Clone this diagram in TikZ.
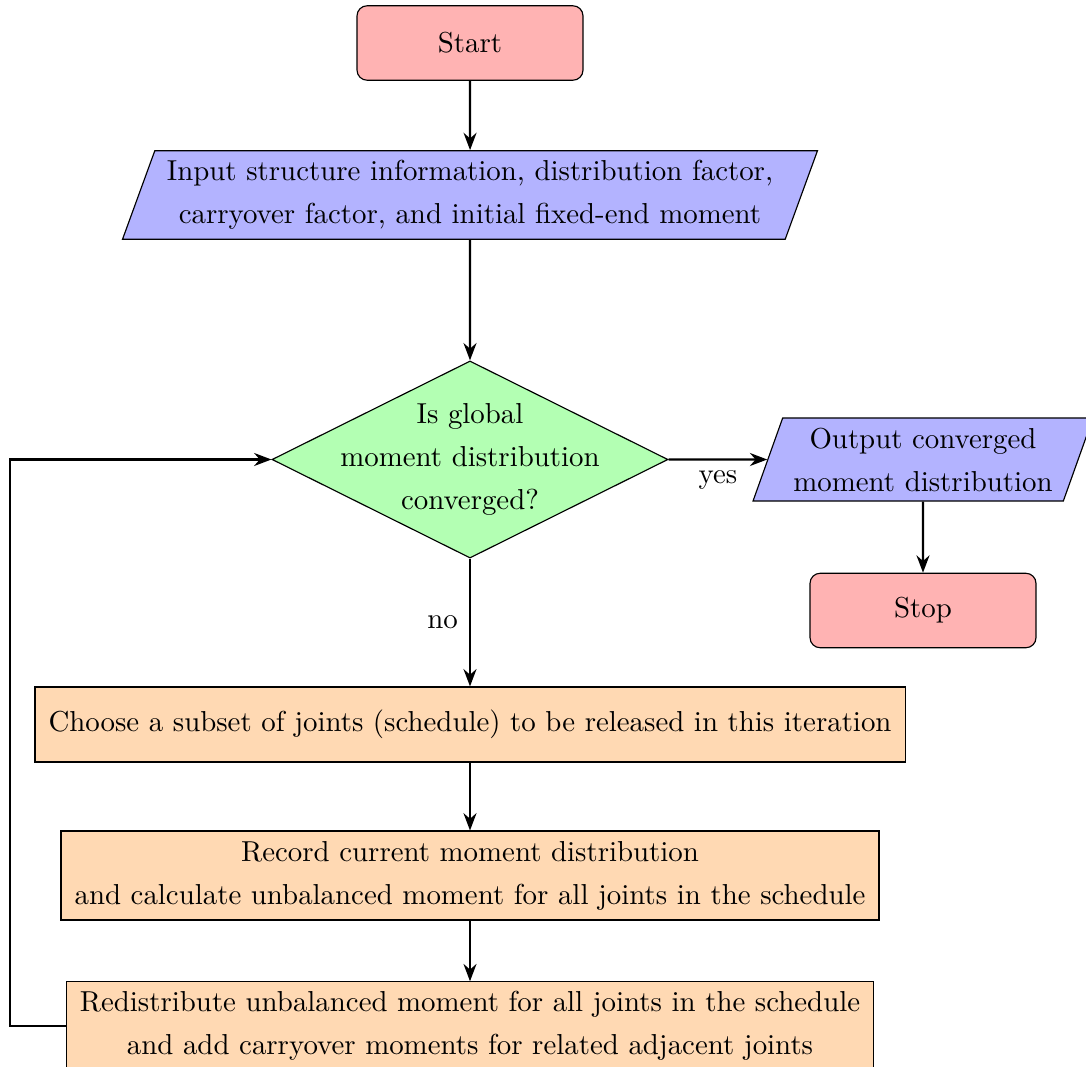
\documentclass[tikz,border=0pt]{standalone}
\usetikzlibrary{shapes.geometric,arrows.meta}

\definecolor{startred}{RGB}{255,179,179}
\definecolor{iofill}{RGB}{179,179,255}
\definecolor{decfill}{RGB}{179,255,179}
\definecolor{procfill}{RGB}{255,217,179}

\tikzset{
  base/.style={draw=black, thin, inner sep=0pt, align=center,
    font=\fontsize{10}{14.9}\selectfont},
  terminal/.style={base, rounded corners=3.5pt, fill=startred,
    minimum width=78.3pt, minimum height=25.8pt},
  iobox/.style={base, trapezium, trapezium left angle=65,
    trapezium right angle=115, trapezium stretches body, fill=iofill},
  decision/.style={base, diamond, fill=decfill,
    minimum width=137.2pt, minimum height=68.3pt},
  process/.style={base, rectangle, fill=procfill},
  flow/.style={-{Stealth[length=6pt,width=4.5pt]}, thick},
  flowlabel/.style={font=\fontsize{10}{12}\selectfont}
}

\begin{document}
\begin{tikzpicture}[x=0.3465pt, y=-0.3465pt]
  \useasboundingbox (0,0) rectangle (1086,1067);

  % main column
  \node[terminal] (start) at (470,43) {Start};
  \node[iobox, minimum width=240.8pt, minimum height=30.7pt] (input) at (470,195)
    {Input structure information, distribution factor,\\carryover factor, and initial fixed-end moment};
  \node[decision,
        label={[base, draw=none, fill=none]center:Is global\\moment distribution\\converged?}]
    (dec) at (470,459.5) {};
  \node[process, minimum width=301.5pt, minimum height=26pt] (choose) at (470,724.5)
    {Choose a subset of joints (schedule) to be released in this iteration};
  \node[process, minimum width=283.4pt, minimum height=30.8pt] (record) at (470,875.5)
    {Record current moment distribution\\and calculate unbalanced moment for all joints in the schedule};
  \node[process, minimum width=279.6pt, minimum height=30.6pt] (redis) at (470,1026)
    {Redistribute unbalanced moment for all joints in the schedule\\and add carryover moments for related adjacent joints};

  % exit branch
  \node[iobox, minimum width=117.8pt, minimum height=28.8pt] (out) at (923,459.5)
    {Output converged\\moment distribution};
  \node[terminal] (stop) at (923,610.5) {Stop};

  % rail for the loop back
  \coordinate (rail) at (10,459.5);

  % connectors
  \draw[flow] (start) -- (input);
  \draw[flow] (input) -- (dec);
  \draw[flow] (dec.east) -- node[flowlabel, below, pos=0.5] {yes} (out.west);
  \draw[flow] (out) -- (stop);
  \draw[flow] (dec.south) -- node[flowlabel, left, xshift=-0.5pt] {no} (choose.north);
  \draw[flow] (choose) -- (record);
  \draw[flow] (record) -- (redis);
  \draw[flow] (redis.west) -- (rail |- redis.west) |- (dec.west);
\end{tikzpicture}
\end{document}
